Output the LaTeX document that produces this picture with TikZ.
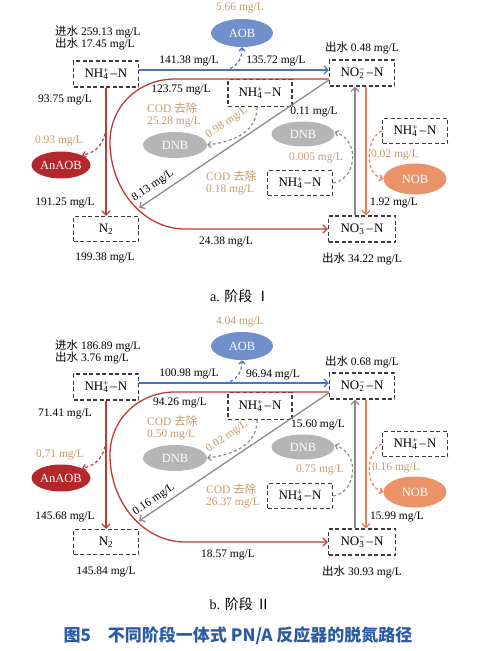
\documentclass[tikz,border=0pt]{standalone}
\usepackage{fontspec}
\setmainfont{Liberation Serif}
\newfontfamily\cjk{Noto Sans CJK SC}
\usetikzlibrary{arrows.meta,shapes.geometric}
\definecolor{blueln}{HTML}{4A73C0}
\definecolor{aobc}{HTML}{7090CA}
\definecolor{redln}{HTML}{BE3A34}
\definecolor{anac}{HTML}{B3272D}
\definecolor{grayln}{HTML}{8C8C8C}
\definecolor{dnbc}{HTML}{B5B5B5}
\definecolor{orangeln}{HTML}{E57F50}
\definecolor{nobc}{HTML}{EA9368}
\definecolor{tanc}{HTML}{C49A6A}
\definecolor{boxgray}{HTML}{3C3C3C}
\definecolor{capblue}{HTML}{2C5BA5}
\newcommand\ammo{NH\rlap{\textsubscript{4}}\textsuperscript{+}\kern1.5pt–\kern1pt N}
\newcommand\nitri{NO\rlap{\textsubscript{2}}\textsuperscript{−}\kern1.5pt–\kern1pt N}
\newcommand\nitra{NO\rlap{\textsubscript{3}}\textsuperscript{−}\kern1.5pt–\kern1pt N}
\tikzset{
 box/.style={draw=boxgray, dash pattern=on 4pt off 2.5pt, line width=1.3pt, minimum width=65pt, minimum height=26pt, inner sep=0pt, font=\fontsize{13}{13}\selectfont},
 bug/.style={ellipse, minimum width=62pt, minimum height=27pt, inner sep=0pt, text=white, font=\fontsize{12.5}{12.5}\selectfont},
 lbl/.style={font=\fontsize{11.5}{12.5}\selectfont, inner sep=0pt},
 tan/.style={lbl, text=tanc},
 two/.style={align=left, anchor=west},
 solidarrow/.style={line width=1.3pt, -{Straight Barb[length=4pt,width=8pt]}},
 dasharrow/.style={line width=1.2pt, dash pattern=on 3pt off 2.5pt, -{Straight Barb[length=3pt,width=6pt]}},
}
\begin{document}
\begin{tikzpicture}[x=1pt,y=-1pt]
\useasboundingbox (0,0) rectangle (479,651);
\foreach \p/\dy in {a/0,b/313}{
\begin{scope}[shift={(0,\dy)}]
 \node[box] (nh\p) at (106,74) {\ammo};
 \node[box] (no2\p) at (362,73) {\nitri};
 \node[bug, fill=aobc, minimum width=62pt, minimum height=28pt] (aob\p) at (242,33) {AOB};
 \node[box, minimum width=64pt, minimum height=27pt] (nhm\p) at (260,93) {\ammo};
 \node[bug, fill=dnbc, minimum width=64pt, minimum height=26pt] (dnbl\p) at (175,145) {DNB};
 \node[bug, fill=dnbc, minimum width=63pt, minimum height=25pt] (dnbr\p) at (303,134) {DNB};
 \node[box, minimum height=25pt] (nhl\p) at (300,183) {\ammo};
 \node[box, minimum height=25pt] (nhr\p) at (415,131) {\ammo};
 \node[bug, fill=nobc, minimum width=63pt, minimum height=31pt] (nob\p) at (415,179) {NOB};
 \node[box, minimum width=67pt] (no3\p) at (362,229) {\nitra};
 \node[box, minimum height=25pt] (ntwo\p) at (106,229) {N\textsubscript{2}};
 \node[bug, fill=anac, minimum width=59pt, minimum height=27pt] (ana\p) at (61,165) {AnAOB};
 \coordinate (bs\p) at (225,70);
 \coordinate (rs\p) at (106,128);
 \draw[solidarrow, draw=blueln] ([yshift=4pt]nh\p.east) -- ([yshift=3pt]no2\p.west);
 \draw[dasharrow, draw=blueln] (bs\p) .. controls (236,68) and (242,60) .. (aob\p.south);
 \draw[solidarrow, draw=redln] ([yshift=-6pt]no2\p.west) -- (175,79) .. controls (139,79) and (110,106) .. (110,142) .. controls (110,190) and (144,229) .. (185,229) -- (no3\p.west);
 \draw[solidarrow, draw=redln] (nh\p.south) -- (ntwo\p.north);
 \draw[dasharrow, draw=redln] (rs\p) .. controls (104,145) and (96,152) .. (ana\p.north east);
 \draw[solidarrow, draw=grayln] ([yshift=-7pt]no2\p.west) -- ([yshift=8pt]ntwo\p.north east);
 \draw[dasharrow, draw=grayln] ([xshift=-3pt]nhm\p.south) .. controls (257,125) and (245,140) .. (dnbl\p.east);
 \draw[dasharrow, draw=grayln] (nhl\p.east) .. controls (355,180) and (362,142) .. ([yshift=2pt]dnbr\p.east);
 \draw[solidarrow, draw=grayln] ([xshift=-7pt]no3\p.north) -- ([xshift=-7pt]no2\p.south);
 \draw[solidarrow, draw=orangeln] ([xshift=4pt]no2\p.south) -- ([xshift=4pt]no3\p.north);
 \draw[dasharrow, draw=orangeln] (nhr\p.west) .. controls (368,136) and (362,172) .. (nob\p.west);
\end{scope}
}
% panel a labels
\node[lbl, two] (a1) at (55,38) {{\cjk 进水} 259.13 mg/L\\{\cjk 出水} 17.45 mg/L};
\node[lbl] (a3) at (189,61) {141.38 mg/L};
\node[lbl] (a4) at (276,61) {135.72 mg/L};
\node[tan] (a5) at (240,8) {5.66 mg/L};
\node[lbl] (a6) at (362,48) {{\cjk 出水} 0.48 mg/L};
\node[lbl] (a7) at (181,90) {123.75 mg/L};
\node[lbl] (a8) at (65,100) {93.75 mg/L};
\node[tan, two] (a9) at (147,115) {COD {\cjk 去除}\\25.28 mg/L};
\node[tan, rotate=34] (a11) at (227,123) {0.98 mg/L};
\node[lbl] (a12) at (314,112) {0.11 mg/L};
\node[tan] (a13) at (316,158) {0.005 mg/L};
\node[tan, two] (a14) at (206,183) {COD {\cjk 去除}\\0.18 mg/L};
\node[tan] (a16) at (395,155) {0.02 mg/L};
\node[lbl] (a17) at (394,203) {1.92 mg/L};
\node[lbl] (a18) at (362,259) {{\cjk 出水} 34.22 mg/L};
\node[lbl] (a19) at (226,242) {24.38 mg/L};
\node[lbl] (a20) at (105,258) {199.38 mg/L};
\node[lbl] (a21) at (65,203) {191.25 mg/L};
\node[tan] (a22) at (59,141) {0.93 mg/L};
\node[lbl, rotate=34] (a23) at (153,186) {8.13 mg/L};
\node[font=\fontsize{14}{14}\selectfont, inner sep=0pt] (a24) at (240,296) {a. {\cjk 阶段} {\cjk Ⅰ}};
% panel b labels
\node[lbl, two] (b1) at (55,352) {{\cjk 进水} 186.89 mg/L\\{\cjk 出水} 3.76 mg/L};
\node[lbl] (b3) at (189,374) {100.98 mg/L};
\node[lbl] (b4) at (273,375) {96.94 mg/L};
\node[tan] (b5) at (240,322) {4.04 mg/L};
\node[lbl] (b6) at (362,362) {{\cjk 出水} 0.68 mg/L};
\node[lbl] (b7) at (180,403) {94.26 mg/L};
\node[lbl] (b8) at (65,414) {71.41 mg/L};
\node[tan, two] (b9) at (147,428) {COD {\cjk 去除}\\0.50 mg/L};
\node[tan, rotate=34] (b11) at (227,437) {0.02 mg/L};
\node[lbl] (b12) at (318,425) {15.60 mg/L};
\node[tan] (b13) at (320,470) {0.75 mg/L};
\node[tan, two] (b14) at (206,496) {COD {\cjk 去除}\\26.37 mg/L};
\node[tan] (b16) at (396,468) {0.16 mg/L};
\node[lbl] (b17) at (397,517) {15.99 mg/L};
\node[lbl] (b18) at (362,572) {{\cjk 出水} 30.93 mg/L};
\node[lbl] (b19) at (228,555) {18.57 mg/L};
\node[lbl] (b20) at (106,572) {145.84 mg/L};
\node[lbl] (b21) at (65,517) {145.68 mg/L};
\node[tan] (b22) at (60,455) {0.71 mg/L};
\node[lbl, rotate=34] (b23) at (154,500) {0.16 mg/L};
\node[font=\fontsize{14}{14}\selectfont, inner sep=0pt] (b24) at (240,604) {b. {\cjk 阶段} {\cjk Ⅱ}};
\node[font=\cjk\bfseries\fontsize{17}{17}\selectfont, text=capblue, inner sep=0pt] (cap) at (238,636) {图5\quad 不同阶段一体式 PN/A 反应器的脱氮路径};
\end{tikzpicture}
\end{document}
